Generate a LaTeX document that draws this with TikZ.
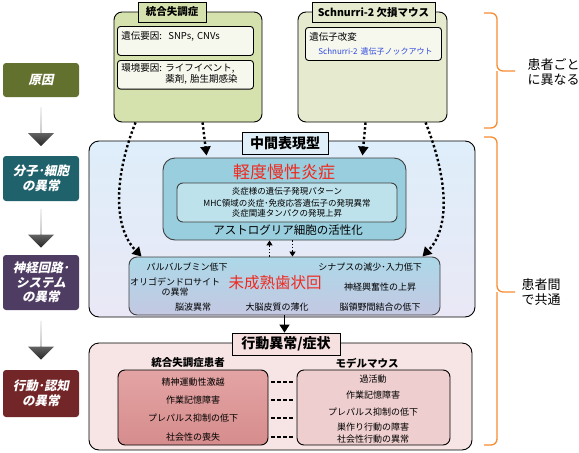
\documentclass[tikz,border=0pt]{standalone}
\usepackage{fontspec}
\setmainfont{Noto Sans CJK JP}
\newfontfamily\slantjp[FakeSlant=0.2]{Noto Sans CJK JP}
\usepackage{tikz}
\usetikzlibrary{arrows.meta, positioning, calc, shapes.arrows}
\definecolor{causegreen}{RGB}{99,113,47}
\definecolor{molteal}{RGB}{32,98,108}
\definecolor{circpurple}{RGB}{78,60,98}
\definecolor{behavred}{RGB}{115,38,40}
\definecolor{schizbg}{RGB}{214,226,174}
\definecolor{mousebg}{RGB}{230,235,207}
\definecolor{factorbg}{RGB}{246,248,238}
\definecolor{midtop}{RGB}{222,238,250}
\definecolor{midbot}{RGB}{234,232,246}
\definecolor{midtab}{RGB}{225,240,248}
\definecolor{inflbg}{RGB}{152,206,222}
\definecolor{inflinner}{RGB}{190,226,236}
\definecolor{dgtop}{RGB}{172,216,232}
\definecolor{dgbot}{RGB}{196,200,226}
\definecolor{behavbg}{RGB}{247,229,229}
\definecolor{behavtab}{RGB}{246,224,224}
\definecolor{pattop}{RGB}{228,164,164}
\definecolor{patbot}{RGB}{214,140,140}
\definecolor{mousepink}{RGB}{238,206,206}
\definecolor{braceorange}{RGB}{247,140,50}
\definecolor{kotext}{RGB}{45,70,220}
\definecolor{alertred}{RGB}{240,40,30}
\tikzset{
  panel/.style={
    draw=black,
    line width=0.9pt,
    rounded corners=8pt
  },
  tab/.style={
    draw=black,
    line width=0.8pt,
    inner sep=0pt,
    minimum height=20pt,
    font=\bfseries\fontsize{10.5}{12}\selectfont
  },
  factor/.style={
    draw=black,
    fill=factorbg,
    line width=0.9pt,
    rounded corners=3pt,
    align=left,
    inner xsep=4pt,
    inner ysep=3pt,
    text width=128pt,
    anchor=north west,
    font=\fontsize{9.5}{11}\selectfont
  },
  stage/.style={
    rounded corners=3pt,
    minimum width=76pt,
    text=white,
    align=center,
    inner sep=0pt,
    font=\slantjp\bfseries\fontsize{12.5}{14.5}\selectfont
  },
  stagearrow/.style={
    single arrow,
    shape border rotate=270,
    inner sep=0pt,
    minimum width=26pt,
    minimum height=39pt,
    single arrow head extend=7pt,
    single arrow head indent=0pt,
    top color=black!15,
    bottom color=black!85
  },
  item/.style={inner sep=1pt, font=\fontsize{9}{10.5}\selectfont},
  dotarrow/.style={line width=2.4pt, dash pattern=on 2.4pt off 2.4pt,
    -{Triangle[width=10pt,length=9pt]}},
  smalldot/.style={line width=1.6pt, dash pattern=on 1.6pt off 1.6pt,
    -{Triangle[width=6pt,length=5pt]}},
  arrow/.style={line width=1.5pt, -{Triangle[width=10pt,length=8pt]}},
  dashlink/.style={line width=1.4pt, dash pattern=on 4pt off 2pt},
  brace/.style={draw=braceorange, line width=1.3pt, rounded corners=6pt}
}
\begin{document}
\begin{tikzpicture}[x=1pt, y=-1pt, font=\fontsize{9}{11}\selectfont]
\useasboundingbox (0,0) rectangle (579,453);

% stages on the left
\node[stage, fill=causegreen, minimum height=34pt] (cause) at (41,80) {原因};
\node[stage, fill=molteal, minimum height=45pt] (mol) at (41,178.5) {分子･細胞\\の異常};
\node[stage, fill=circpurple, minimum height=55pt] (circ) at (41,282.5) {神経回路･\\システム\\の異常};
\node[stage, fill=behavred, minimum height=47pt] (behv) at (41,393.5) {行動･認知\\の異常};
\node[stagearrow] (arr1) at ($(cause.south)!0.5!(mol.north)$) {};
\node[stagearrow] (arr2) at ($(mol.south)!0.5!(circ.north)$) {};
\node[stagearrow] (arr3) at ($(circ.south)!0.5!(behv.north)$) {};

% causes
\node[panel, fill=schizbg, minimum width=148pt, minimum height=110pt] (schiz) at (188,67) {};
\node[tab, fill=schizbg, minimum width=68pt] (schiztab) at (172,12) {統合失調症};
\node[factor, text height=10pt, text depth=13pt] (gene) at (117,26) {遺伝要因:\ \ SNPs, CNVs};
\node[factor] (env) at (117,60)
{\begin{tabular}{@{}l@{\ }l@{}}環境要因: & ライフイベント,\\ & 薬剤, 胎生期感染\end{tabular}};

\node[panel, fill=mousebg, minimum width=149pt, minimum height=110pt] (mouse) at (372.5,67) {};
\node[tab, fill=mousebg, minimum width=123pt] (mousetab) at (373.5,12) {Schnurri-2 欠損マウス};
\node[factor, minimum height=33pt] (knock) at (305,27)
{遺伝子改変\\[3pt]\hspace*{9pt}\mbox{\color{kotext}\fontsize{8}{10}\selectfont Schnurri-2 遺伝子ノックアウト}};

% intermediate phenotype
\node[panel, top color=midtop, bottom color=midbot, minimum width=386pt, minimum height=176pt,
  rounded corners=10pt] (mid) at (282,229) {};
\node[tab, fill=midtab, minimum width=86pt, minimum height=22pt,
  font=\bfseries\fontsize{14}{16}\selectfont] (midtab) at (285,143) {中間表現型};

\node[panel, fill=inflbg, draw=black!75, minimum width=243pt, minimum height=82pt,
  rounded corners=12pt] (infl) at (284.5,199) {};
\node[text=alertred, font=\fontsize{17}{19}\selectfont] (infltitle) at (284,172) {軽度慢性炎症};
\node[panel, fill=inflinner, draw=black!75, rounded corners=6pt, minimum width=220pt,
  minimum height=39pt, align=center, inner sep=0pt, font=\fontsize{8.5}{10}\selectfont] (inflin) at (287,202.5)
{炎症様の遺伝子発現パターン\\[2pt]MHC領域の炎症･免疫応答遺伝子の発現異常\\炎症関連タンパクの発現上昇};
\node[font=\fontsize{11.5}{13}\selectfont] (astro) at (288,230) {アストログリア細胞の活性化};

\node[panel, top color=dgtop, bottom color=dgbot, draw=black!75, minimum width=311pt,
  minimum height=58pt] (dg) at (284.5,286) {};
\node[text=alertred, font=\fontsize{15.5}{17}\selectfont] (dgtitle) at (275,283) {未成熟歯状回};
\node[item] (pv) at (187,267) {パルバルブミン低下};
\node[item] (oligo) at (175,288) {\begin{tabular}{@{}c@{}}オリゴデンドロサイト\\[-1pt]の異常\end{tabular}};
\node[item] (eeg) at (193,307) {脳波異常};
\node[item] (cortex) at (277,307) {大脳皮質の薄化};
\node[item] (syn) at (370,267) {シナプスの減少･入力低下};
\node[item] (excit) at (380,287) {神経興奮性の上昇};
\node[item] (conn) at (380,307) {脳領野間結合の低下};

% behaviour
\node[panel, fill=behavbg, minimum width=383pt, minimum height=107pt,
  rounded corners=10pt] (behav) at (280.5,396.5) {};
\node[tab, fill=behavtab, minimum width=108pt, minimum height=22pt,
  font=\bfseries\fontsize{14}{16}\selectfont] (behavtab) at (286,344) {行動異常/症状};
\node[font=\bfseries\fontsize{10.5}{12}\selectfont] (pattitle) at (188,363) {統合失調症患者};
\node[font=\bfseries\fontsize{10.5}{12}\selectfont] (mousetitle) at (367,363) {モデルマウス};

\node[panel, top color=pattop, bottom color=patbot, minimum width=150pt, minimum height=75pt,
  rounded corners=7pt] (patbox) at (193,407.5) {};
\node[panel, fill=mousepink, minimum width=153pt, minimum height=75pt,
  rounded corners=7pt] (mousebox) at (373.5,407.5) {};

\node[item] (p1) at (193,382) {精神運動性激越};
\node[item] (p2) at (193,400) {作業記憶障害};
\node[item] (p3) at (193,418) {プレパルス抑制の低下};
\node[item] (p4) at (193,437) {社会性の喪失};

\node[item] (m1) at (373,379) {過活動};
\node[item] (m2) at (373,395) {作業記憶障害};
\node[item] (m3) at (373,412) {プレパルス抑制の低下};
\node[item, align=center, font=\fontsize{9}{11.5}\selectfont] (m4) at (373,433) {巣作り行動の障害\\社会性行動の異常};

% connectors
\draw[dotarrow] ([xshift=22pt]schiz.south west) .. controls +(-20,50) and +(-30,-31) .. ([xshift=13pt]dg.north west);
\draw[dotarrow] ([xshift=89pt]schiz.south west) -- ([xshift=44pt,yshift=2pt]infl.north west);
\draw[dotarrow] ([xshift=68pt]mouse.south west) -- ([xshift=-44pt,yshift=2pt]infl.north east);
\draw[dotarrow] ([xshift=128pt]mouse.south west) .. controls +(20,50) and +(30,-31) .. ([xshift=-18pt]dg.north east);
\draw[smalldot] ([xshift=-15pt]dg.north) -- ([xshift=-15pt]infl.south);
\draw[smalldot] ([xshift=8pt]infl.south) -- ([xshift=8pt]dg.north);
\draw[arrow] (dg.south) -- (dg.south |- behavtab.north);

\foreach \p in {p1,p2,p3,p4}
  \draw[dashlink, shorten <=3pt, shorten >=2pt] (patbox.east |- \p) -- (mousebox.west |- \p);

% braces on the right
\coordinate (tipA) at (497,71);
\coordinate (tipB) at (497,292);
\draw[brace] (484,13) -| (tipA) -- ++(18,0);
\draw[brace] (484,128) -| (tipA);
\draw[brace] (484,137) -| (tipB) -- ++(18,0);
\draw[brace] (484,445) -| (tipB);
\node[align=left, anchor=west, font=\fontsize{13}{15.5}\selectfont] (varies) at (524,72) {患者ごと\\に異なる};
\node[align=left, anchor=west, font=\fontsize{13}{15.5}\selectfont] (shared) at (518,292) {患者間\\で共通};

\end{tikzpicture}
\end{document}
